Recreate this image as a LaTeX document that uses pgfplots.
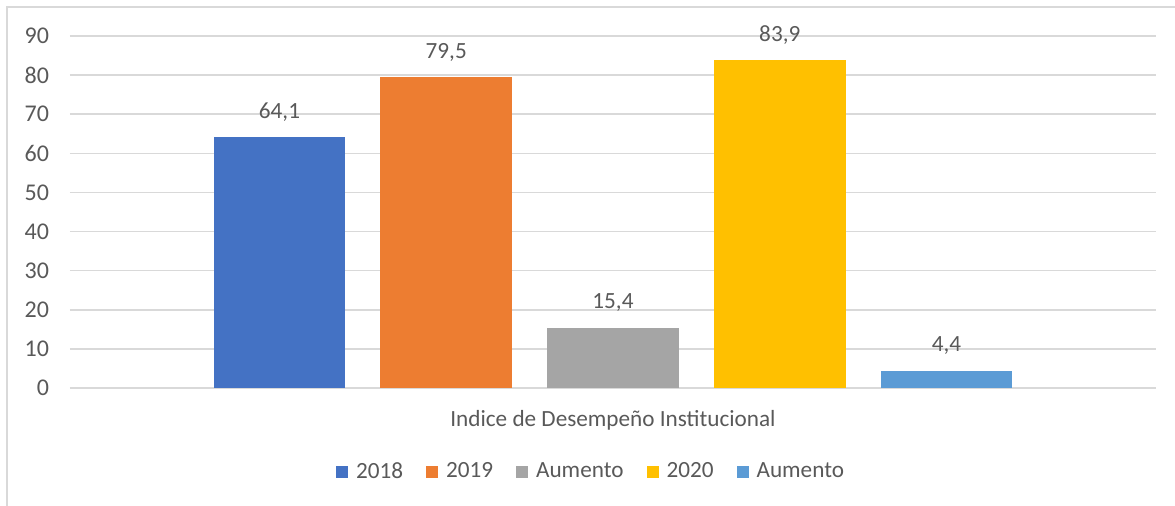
\documentclass[border=0pt]{standalone}
\usepackage{fontspec}
\setmainfont{Carlito}
\usepackage{pgfplots}
\pgfplotsset{compat=1.18}
\definecolor{txt}{HTML}{595959}
\definecolor{grd}{HTML}{D9D9D9}
\definecolor{c18}{HTML}{4472C4}
\definecolor{c19}{HTML}{ED7D31}
\definecolor{cau}{HTML}{A5A5A5}
\definecolor{c20}{HTML}{FFC000}
\definecolor{cau2}{HTML}{5B9BD5}
\begin{document}
\begin{tikzpicture}[font=\fontsize{11.6}{14}\selectfont]
% page = 1175 x 506 px, 1 px = 0.5pt, axis corner at px (70,388)
\useasboundingbox (-35pt,-59pt) rectangle (552.5pt,194pt);
\draw[grd, line width=0.75pt] (-31.5pt,-60pt) -- (-31.5pt,190.5pt) -- (553pt,190.5pt);
\begin{axis}[
  scale only axis, width=543pt, height=176pt,
  xmin=-0.256, xmax=6.256, ymin=0, ymax=90,
  ytick={0,10,...,90},
  xtick={3}, xticklabels={Indice de Desempeño Institucional},
  major tick length=0pt,
  axis line style={draw=none},
  ymajorgrids, grid style={grd, line width=0.75pt},
  tick label style={text=txt},
  yticklabel style={font=\fontsize{12}{14}\selectfont, xshift=-7pt},
  /pgf/number format/assume math mode=true,
  xticklabel style={anchor=center, yshift=-16pt},
  nodes near coords,
  every node near coord/.append style={text=txt, anchor=center, yshift=12.5pt,
    /pgf/number format/.cd, fixed, fixed zerofill, precision=1, use comma, assume math mode=true},
  legend columns=5,
  legend style={at={(0.4807,-0.2386)}, anchor=center, draw=none, fill=none, text=txt,
    /tikz/every even column/.append style={column sep=9.5pt}},
  legend image code/.code={\fill[#1] (0pt,-3pt) rectangle (6pt,3pt); \path (8pt,0pt);},
]
\addplot[ybar, bar width=0.79, bar shift=0pt, fill=c18, draw=none] coordinates {(1,64.1)};
\addlegendentry{2018}
\addplot[ybar, bar width=0.79, bar shift=0pt, fill=c19, draw=none] coordinates {(2,79.5)};
\addlegendentry{2019}
\addplot[ybar, bar width=0.79, bar shift=0pt, fill=cau, draw=none] coordinates {(3,15.4)};
\addlegendentry{Aumento}
\addplot[ybar, bar width=0.79, bar shift=0pt, fill=c20, draw=none] coordinates {(4,83.9)};
\addlegendentry{2020}
\addplot[ybar, bar width=0.79, bar shift=0pt, fill=cau2, draw=none] coordinates {(5,4.4)};
\addlegendentry{Aumento}
\end{axis}
\end{tikzpicture}
\end{document}
